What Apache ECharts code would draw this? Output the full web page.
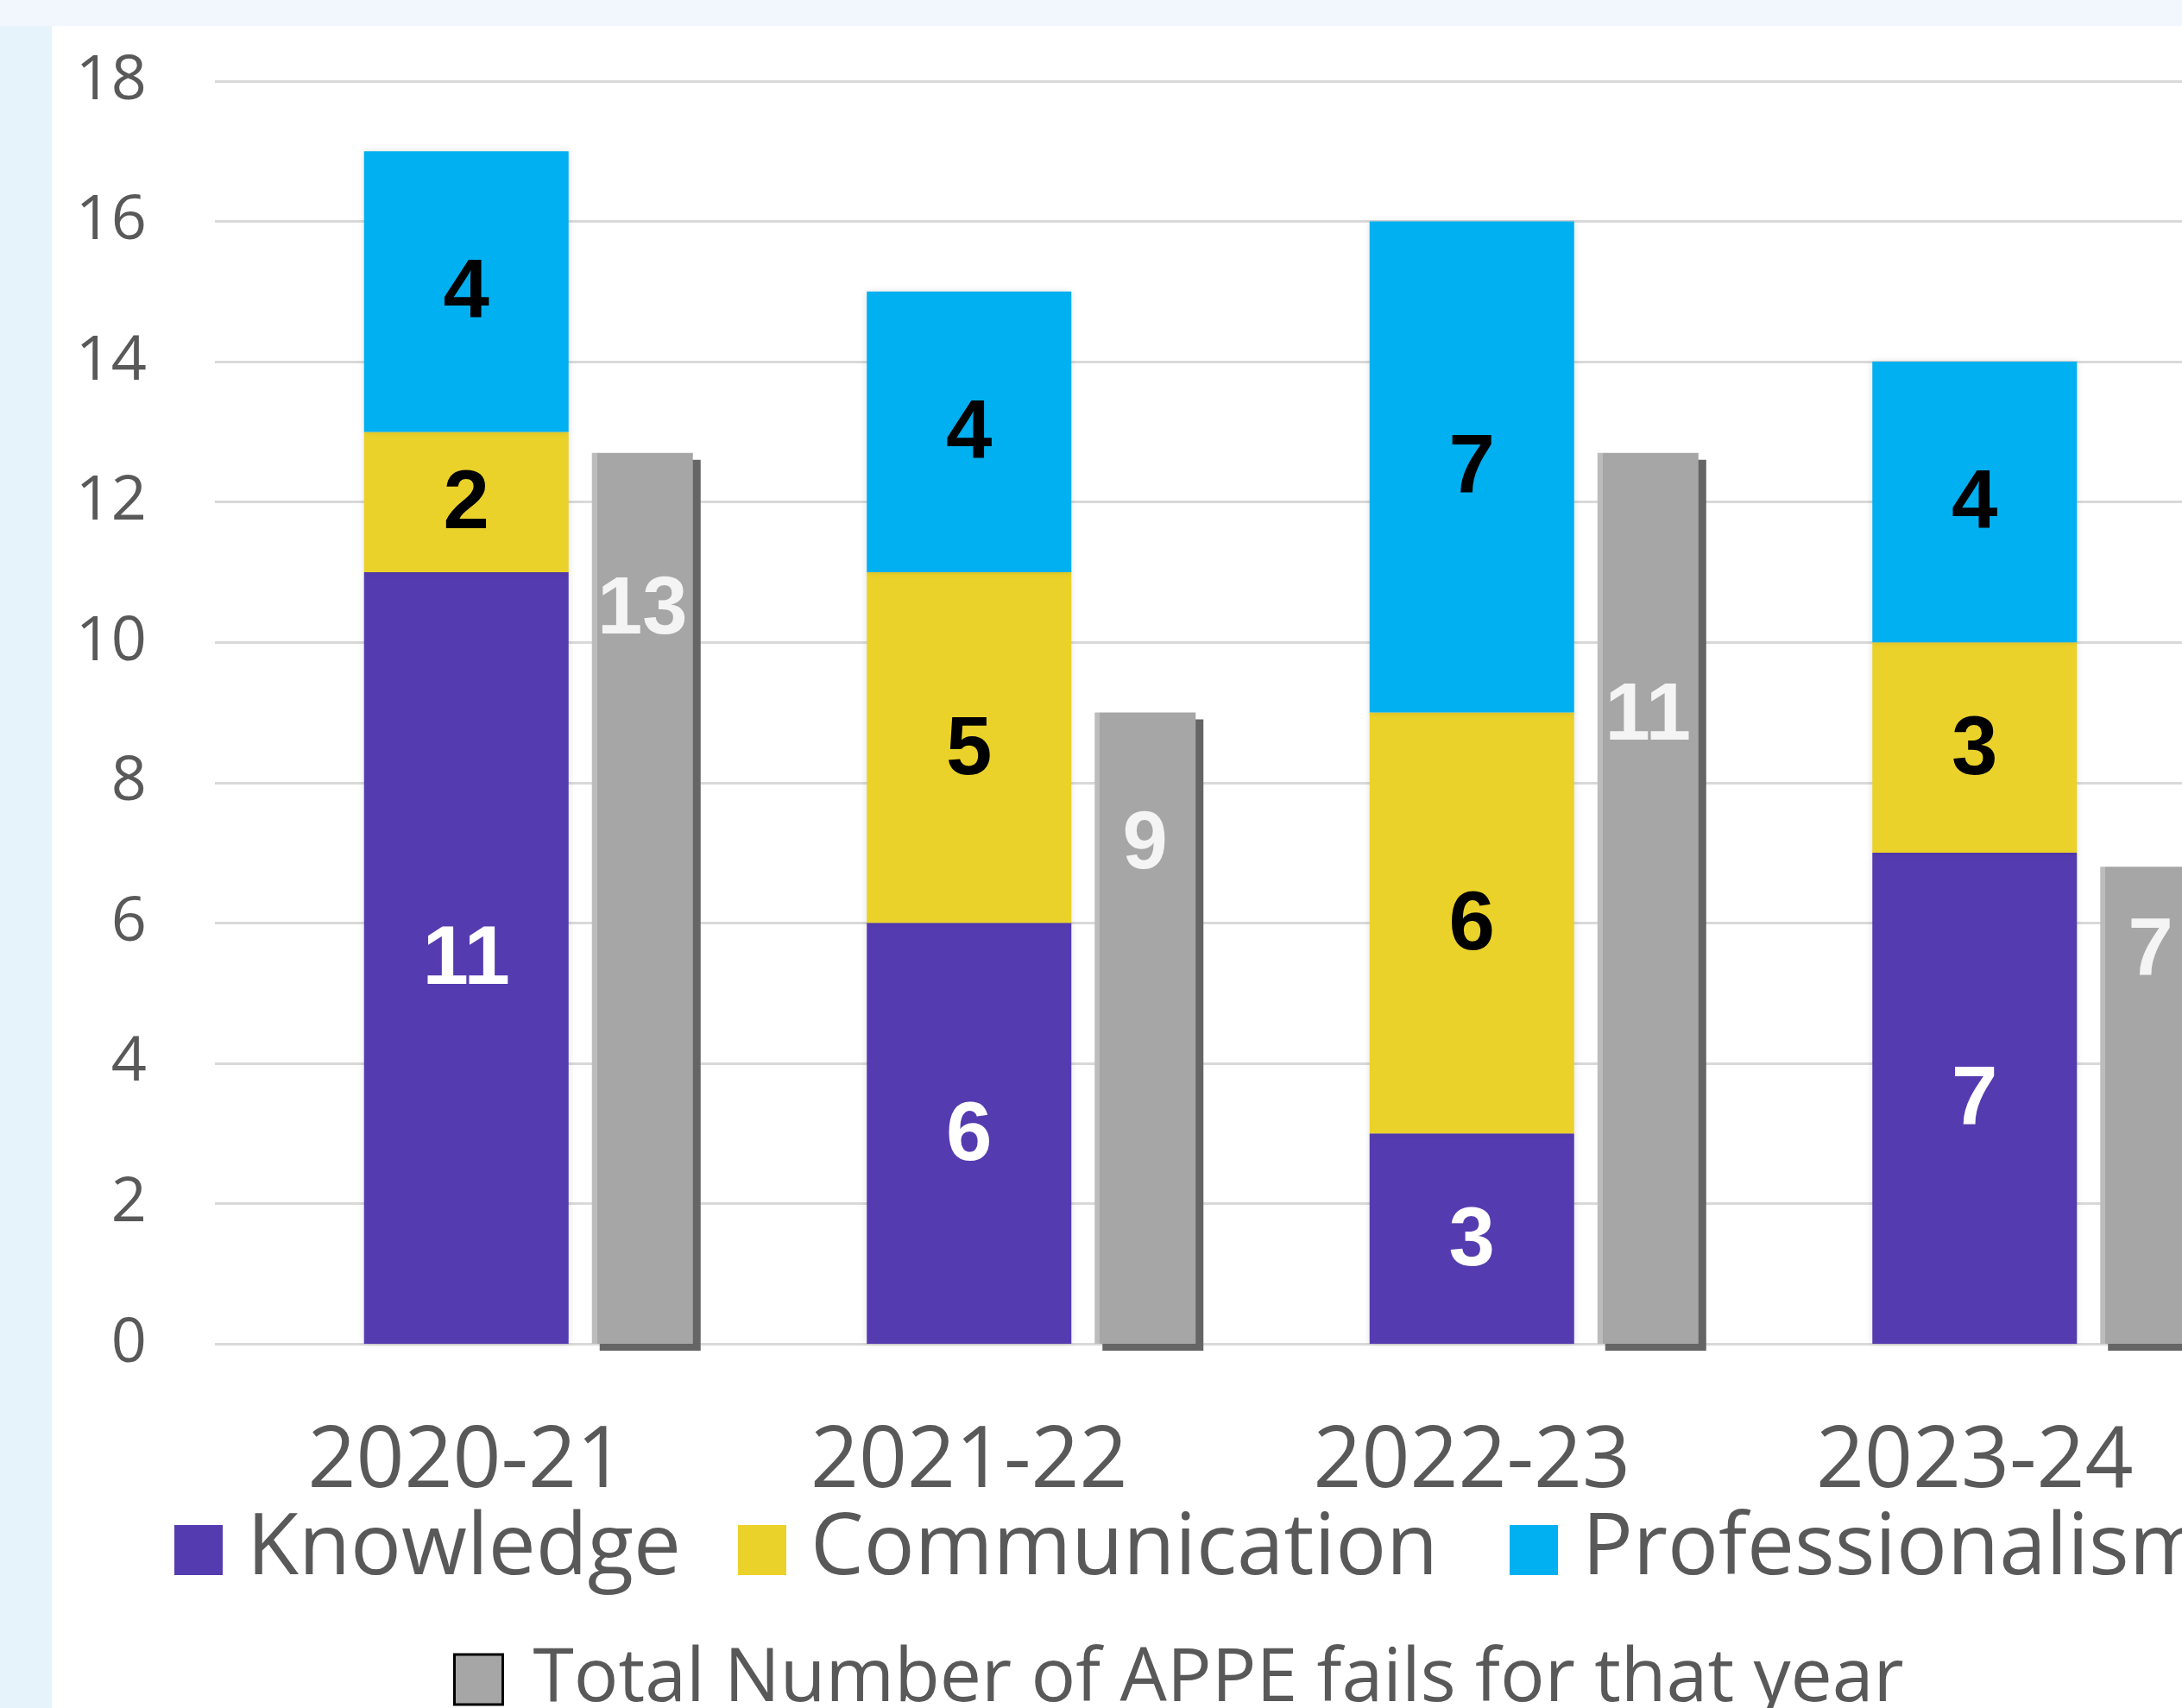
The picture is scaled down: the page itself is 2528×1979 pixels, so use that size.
<!DOCTYPE html>
<html><head><meta charset="utf-8">
<script src="https://cdn.jsdelivr.net/npm/echarts@6/dist/echarts.min.js"></script>
<style>
html,body{margin:0;padding:0;width:2528px;height:1979px;overflow:hidden;background:#F1F7FC;}
#strip{position:absolute;left:0;top:30px;width:60px;height:1949px;background:#E7F3FA;}
#chart{position:absolute;left:60px;top:30px;width:2468px;height:1949px;background:#fff;}
</style></head><body>
<div id="strip"></div><div id="chart"></div>
<script>
// ---- data ----
const categories = ['2020-21', '2021-22', '2022-23', '2023-24'];
const knowledge = [11, 6, 3, 7];
const communication = [2, 5, 6, 3];
const professionalism = [4, 4, 7, 4];
const totalLabels = [13, 9, 11, 7];            // printed totals
const totalBarHeights = [12.7, 9.0, 12.7, 6.8]; // heights of the grey bars as drawn
const totalName = 'Total Number of APPE fails for that year';

// ---- styles ----
const grayLabelFromTop = [183, 155, 306, 100];
const txtColor = '#595959';
const segLabel = (color) => ({
  show: true, position: 'inside', color: color, offset: [0, 4],
  fontFamily: 'Liberation Sans', fontWeight: 'bold', fontSize: 96
});
const segShadow = { shadowBlur: 8, shadowColor: 'rgba(0,0,0,0.12)' };

const chart = echarts.init(document.getElementById('chart'), null, { renderer: 'canvas' });

const legendBase = {
  orient: 'horizontal', icon: 'rect', itemWidth: 56, itemHeight: 58, padding: 0,
  selectedMode: false,
  textStyle: { fontFamily: 'Open Sans', fontSize: 98, color: txtColor, lineHeight: 100, padding: [0, 0, 0, 23] },
  itemStyle: { shadowBlur: 0, shadowOffsetX: 0, shadowOffsetY: 0, shadowColor: 'transparent' }
};

const option = {
  backgroundColor: '#ffffff',
  animation: false,
  grid: [
    { left: 189, top: 64, width: 2330, height: 1463, containLabel: false, outerBoundsMode: 'none' },
    { left: 393, top: 64, width: 2330, height: 1463, containLabel: false, outerBoundsMode: 'none' }
  ],
  xAxis: [
    {
      type: 'category', gridIndex: 0, data: categories,
      axisLine: { show: false }, axisTick: { show: false },
      axisLabel: { fontFamily: 'Open Sans', fontSize: 98, color: txtColor, margin: 88, lineHeight: 100, interval: 0 }
    },
    { type: 'category', gridIndex: 1, data: categories, show: false }
  ],
  yAxis: [
    {
      type: 'value', gridIndex: 0, min: 0, max: 18, interval: 2,
      axisLine: { show: false }, axisTick: { show: false },
      axisLabel: { fontFamily: 'Open Sans', fontSize: 72, color: txtColor, margin: 79 },
      splitLine: { lineStyle: { color: '#d9d9d9', width: 3 } }
    },
    { type: 'value', gridIndex: 1, min: 0, max: 18, interval: 2, show: false, splitLine: { show: false } }
  ],
  legend: [
    Object.assign({}, legendBase, { left: 142, top: 1716, data: ['Knowledge'] }),
    Object.assign({}, legendBase, { left: 795, top: 1716, data: ['Communication'] }),
    Object.assign({}, legendBase, { left: 1689, top: 1716, data: ['Professionalism'] }),
    Object.assign({}, legendBase, {
      left: 465, top: 1866,
      textStyle: Object.assign({}, legendBase.textStyle, { fontSize: 86, padding: [0, 0, 0, 30] }),
      data: [{ name: totalName, itemStyle: { color: '#a6a6a6', borderColor: '#000000', borderWidth: 3,
        shadowBlur: 0, shadowOffsetX: 0, shadowOffsetY: 0, shadowColor: 'transparent' } }]
    })
  ],
  series: [
    { name: 'Knowledge', type: 'bar', stack: 'fails', data: knowledge, barWidth: 237,
      itemStyle: Object.assign({ color: '#553BB0' }, segShadow), label: segLabel('#ffffff') },
    { name: 'Communication', type: 'bar', stack: 'fails', data: communication, barWidth: 237,
      itemStyle: Object.assign({ color: '#EBD22A' }, segShadow), label: segLabel('#000000') },
    { name: 'Professionalism', type: 'bar', stack: 'fails', data: professionalism, barWidth: 237,
      itemStyle: Object.assign({ color: '#00B0F0' }, segShadow), label: segLabel('#000000') },
    {
      name: totalName, type: 'bar', xAxisIndex: 1, yAxisIndex: 1, barWidth: 117,
      data: totalBarHeights.map((v, i) => ({ value: v, label: { position: ['50%', grayLabelFromTop[i]] } })),
      itemStyle: {
        color: new echarts.graphic.LinearGradient(0, 0, 1, 0, [
          { offset: 0, color: '#bcbcbc' }, { offset: 0.05, color: '#bcbcbc' },
          { offset: 0.051, color: '#a6a6a6' }, { offset: 1, color: '#a6a6a6' }
        ]),
        shadowColor: '#656565', shadowOffsetX: 9, shadowOffsetY: 8, shadowBlur: 0
      },
      label: {
        show: true, align: 'center', verticalAlign: 'middle',
        formatter: (p) => String(totalLabels[p.dataIndex]),
        color: '#f4f4f4', fontFamily: 'Liberation Sans', fontWeight: 'bold', fontSize: 94
      }
    }
  ]
};
chart.setOption(option);
</script>
</body></html>
